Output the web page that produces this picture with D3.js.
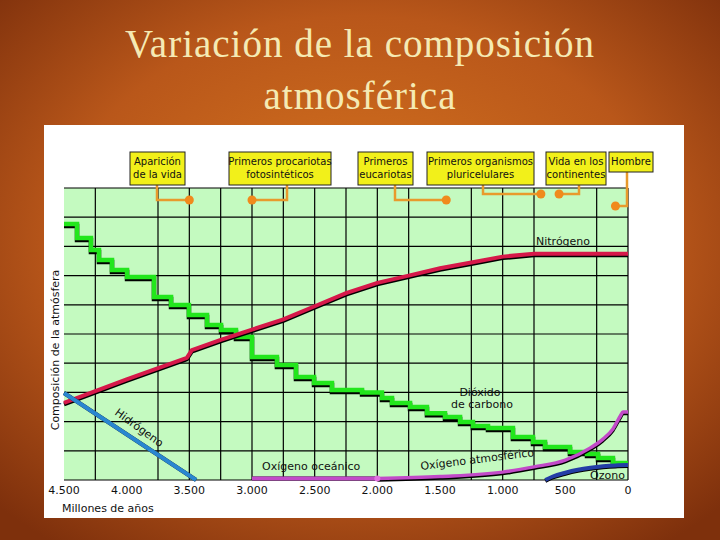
<!DOCTYPE html>
<html><head><meta charset="utf-8">
<script src="https://cdn.jsdelivr.net/npm/d3@7/dist/d3.min.js"></script>
<style>body{margin:0;overflow:hidden}</style></head>
<body><svg id="c" width="720" height="540"></svg>
<script>
const xTicks = [4500,4000,3500,3000,2500,2000,1500,1000,500,0];
const xTickLabels = ["4.500","4.000","3.500","3.000","2.500","2.000","1.500","1.000","500","0"];
const xGrid = [4250,3750,3500,3250,3000,2750,2500,2250,2000,1750,1250,1000,750,250];
const yGrid = [0,1,2,3,4,5,6,7,8,9,10];
const nitrogen = [[4500,2.64],[4000,3.45],[3520,4.18],[3480,4.45],[3250,4.8],[3000,5.15],[2750,5.5],[2500,5.95],[2250,6.4],[2000,6.75],[1750,7.0],[1500,7.25],[1250,7.45],[1000,7.65],[750,7.75],[0,7.75]];
const hydrogen = [[4500,2.98],[3446,0]];
const co2 = [[4500,8.77],[4396,8.29],[4285,7.88],[4221,7.53],[4117,7.19],[3997,6.95],[3782,6.27],[3646,5.99],[3503,5.65],[3359,5.31],[3247,5.14],[3128,4.9],[3000,4.21],[2801,3.94],[2649,3.53],[2505,3.32],[2362,3.08],[2122,3.0],[1963,2.81],[1883,2.64],[1739,2.5],[1604,2.29],[1460,2.16],[1340,1.99],[1237,1.85],[1117,1.78],[918,1.47],[758,1.3],[662,1.13],[463,0.96],[327,0.89],[239,0.75],[120,0.58],[0,0.58]];
const oxyOcean = [[3000,0.05],[2000,0.05]];
const oxyAtm = [[2000,0.05],[1500,0.12],[1000,0.27],[750,0.45],[500,0.68],[300,1.1],[200,1.4],[120,1.75],[60,2.2],[40,2.33],[0,2.33]];
const ozone = [[660,0],[600,0.12],[500,0.25],[400,0.35],[300,0.42],[200,0.47],[100,0.5],[0,0.51]];
const events = [
 {lines:["Aparición","de la vida"], t:3500},
 {lines:["Primeros procariotas","fotosintéticos"], t:3000},
 {lines:["Primeros","eucariotas"], t:1450},
 {lines:["Primeros organismos","pluricelulares"], t:695},
 {lines:["Vida en los","continentes"], t:550},
 {lines:["Hombre"], t:100}
];
// layout (not data)
const boxes = [[130,185,157,200],[229,331,287,200],[358,413,395,200],[427,534,483,194],[546,606,579,194],[609,653,627,206]];

const svg = d3.select("#c");
const defs = svg.append("defs");
const g0 = defs.append("radialGradient").attr("id","bg").attr("cx","50%").attr("cy","45%").attr("r","70%");
g0.append("stop").attr("offset","0%").attr("stop-color","#d8761f");
g0.append("stop").attr("offset","60%").attr("stop-color","#b9571a");
g0.append("stop").attr("offset","100%").attr("stop-color","#7e300c");
svg.append("rect").attr("width",720).attr("height",540).attr("fill","url(#bg)");
svg.append("text").attr("x",360).attr("y",57).attr("text-anchor","middle").attr("font-family","Liberation Serif").attr("font-size",39).attr("letter-spacing",1).attr("fill","#f5eab4").text("Variación de la composición");
svg.append("text").attr("x",360).attr("y",109).attr("text-anchor","middle").attr("font-family","Liberation Serif").attr("font-size",39).attr("letter-spacing",1).attr("fill","#f5eab4").text("atmosférica");
svg.append("rect").attr("x",44).attr("y",125).attr("width",640).attr("height",393).attr("fill","#fff");

const x = d3.scaleLinear().domain([4500,0]).range([64,628]);
const y = d3.scaleLinear().domain([0,10]).range([480,188]);
svg.append("rect").attr("x",64).attr("y",188).attr("width",564).attr("height",292).attr("fill","#c4fac0");
const grid = svg.append("g").attr("stroke","#000").attr("stroke-width",1.2);
xGrid.forEach(v=>grid.append("line").attr("x1",x(v)).attr("x2",x(v)).attr("y1",188).attr("y2",480));
yGrid.forEach(v=>grid.append("line").attr("x1",64).attr("x2",628).attr("y1",y(v)).attr("y2",y(v)));
grid.append("line").attr("x1",628).attr("x2",628).attr("y1",188).attr("y2",480);

const line = d3.line().x(d=>x(d[0])).y(d=>y(d[1]));
const step = d3.line().x(d=>x(d[0])).y(d=>y(d[1])).curve(d3.curveStepAfter);
const curve = d3.line().x(d=>x(d[0])).y(d=>y(d[1])).curve(d3.curveMonotoneX);
function draw(gen,data,col,w,dy){
  svg.append("path").attr("d",gen(data)).attr("transform",`translate(0,${dy})`).attr("fill","none").attr("stroke","#000").attr("stroke-width",w);
  svg.append("path").attr("d",gen(data)).attr("fill","none").attr("stroke",col).attr("stroke-width",w);
}
draw(step,co2,"#22e61c",4.5,2);
draw(line,nitrogen,"#d6184a",4,1.5);
draw(line,hydrogen,"#2a86d0",4,0);
draw(line,oxyOcean,"#c24ac8",4,0);
draw(curve,oxyAtm,"#c24ac8",3.5,1.5);
draw(curve,ozone,"#233ea6",4,1);
svg.append("circle").attr("cx",x(2000)).attr("cy",y(0.05)).attr("r",3).attr("fill","#e070e0");

const lab = (t,px,py,rot,anchor)=>svg.append("text").attr("x",px).attr("y",py).attr("font-family","DejaVu Sans").attr("font-size",11).attr("fill","#111").attr("text-anchor",anchor||"start").attr("transform",rot?`rotate(${rot},${px},${py})`:null).text(t);
lab("Nitrógeno",536,245);
lab("Dióxido",480,396,0,"middle");
lab("de carbono",482,408,0,"middle");
lab("Hidrógeno",114,414,36);
lab("Oxígeno oceánico",262,470);
lab("Oxígeno atmosférico",421,470,-7);
lab("Ozono",590,479);
lab("Composición de la atmósfera",59,350,-90,"middle");
lab("Millones de años",62,512);
xTicks.forEach((v,i)=>lab(xTickLabels[i],x(v),494,0,"middle"));

events.forEach((e,i)=>{
  const [x0,x1,cx,cy]=boxes[i]; const h = e.lines.length>1?33:20;
  svg.append("path").attr("d",`M${cx},${152+h}V${cy}H${x(e.t)}`).attr("fill","none").attr("stroke","#e89a2c").attr("stroke-width",2.5);
  svg.append("circle").attr("cx",x(e.t)).attr("cy",cy).attr("r",4.5).attr("fill","#f08a1c");
  svg.append("rect").attr("x",x0).attr("y",152).attr("width",x1-x0).attr("height",h).attr("fill","#f2f01a").attr("stroke","#222").attr("stroke-width",1);
  e.lines.forEach((t,j)=>svg.append("text").attr("x",(x0+x1)/2).attr("y",165+j*13).attr("text-anchor","middle").attr("font-family","DejaVu Sans").attr("font-size",10).attr("fill","#111").text(t));
});
</script></body></html>
